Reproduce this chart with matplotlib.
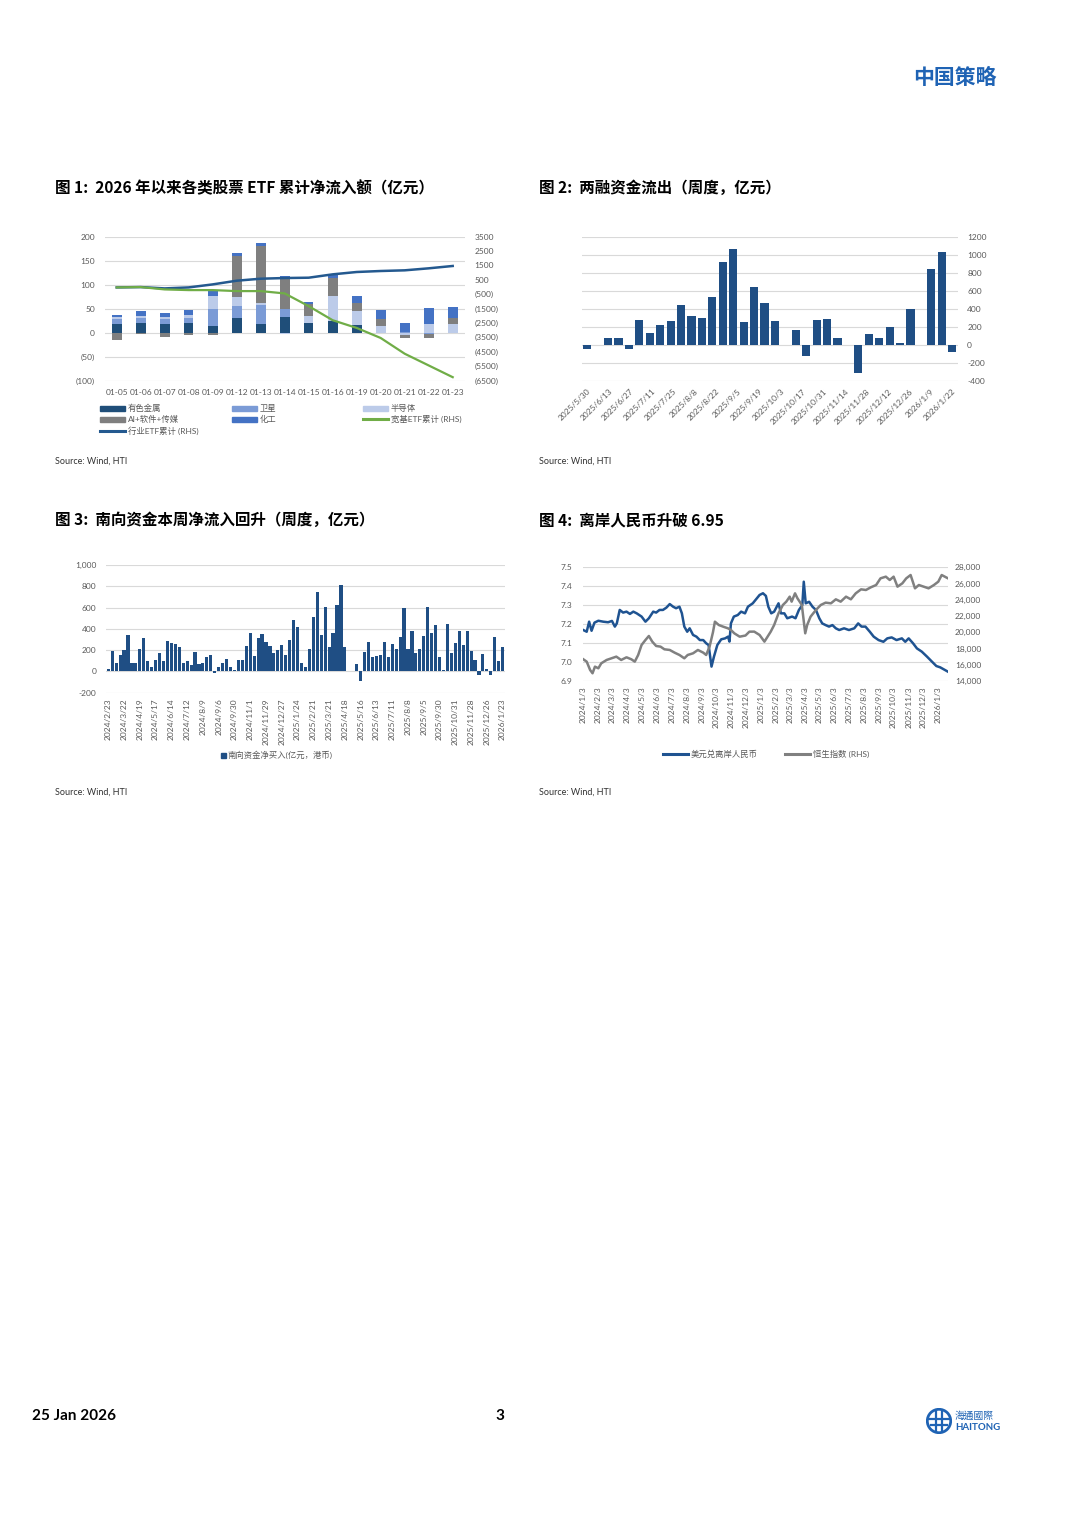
import numpy as np
import pandas as pd
import matplotlib
matplotlib.use("Agg")
import matplotlib.pyplot as plt
from matplotlib.patches import Rectangle, Circle
from matplotlib.lines import Line2D

plt.rcParams['font.family'] = ['Lato', 'Noto Sans CJK SC', 'DejaVu Sans']
plt.rcParams['axes.unicode_minus'] = False

W, H = 1080, 1527
TXT = '#595959'
GRID = '#d9d9d9'
RED = '#e8302f'
NAVY = '#1f4e84'

# ---------------- chart 1: ETF flows by sector (100m CNY) ----------------
etf_days = ['01-05', '01-06', '01-07', '01-08', '01-09', '01-12', '01-13', '01-14',
            '01-15', '01-16', '01-19', '01-20', '01-21', '01-22', '01-23']
etf_metal = [17, 20, 17, 20, 13, 30, 18, 32, 20, 25, 16, 0, 0, 0, 0]
etf_satellite = [12, 10, 11, 10, 37, 25, 40, 16, 0, -2, 0, 0, 2, -4, 0]
etf_semi = [3, 5, 4, 7, 27, 20, 4, -3, 15, 52, 28, 14, -5, 18, 17]
etf_ai = [-15, -4, -10, -6, -5, 85, 118, 67, 25, 36, 18, 14, -7, -7, 14]
etf_chem = [4, 9, 8, 9, 9, 5, 6, 3, 4, 6, 15, 19, 18, 32, 22]
etf_industry_cum = [-36, -12, -105, -36, 174, 430, 569, 616, 639, 872, 1035, 1104, 1151, 1290, 1453]
etf_broad_cum = [-36, -12, -175, -222, -222, -291, -291, -454, -1338, -2315, -2850, -3548, -4641, -5455, -6269]

# ---------------- chart 2: margin financing weekly flow ----------------
margin_labels = ['2025/5/30', '2025/6/13', '2025/6/27', '2025/7/11', '2025/7/25', '2025/8/8',
                 '2025/8/22', '2025/9/5', '2025/9/19', '2025/10/3', '2025/10/17', '2025/10/31',
                 '2025/11/14', '2025/11/28', '2025/12/12', '2025/12/26', '2026/1/9', '2026/1/22']
margin_flow = [-49, np.nan, 71, 78, -41, 272, 131, 224, 261, 448, 325, 298, 534, 925, 1071, 257,
               646, 466, 261, np.nan, 168, -123, 276, 291, 71, -3, -317, 119, 78, 201, 19, 396,
               np.nan, 847, 1041, -75]

# ---------------- chart 3: southbound weekly net buying ----------------
south_labels = ['2024/2/23', '2024/3/22', '2024/4/19', '2024/5/17', '2024/6/14', '2024/7/12',
                '2024/8/9', '2024/9/6', '2024/9/30', '2024/11/1', '2024/11/29', '2024/12/27',
                '2025/1/24', '2025/2/21', '2025/3/21', '2025/4/18', '2025/5/16', '2025/6/13',
                '2025/7/11', '2025/8/8', '2025/9/5', '2025/9/30', '2025/10/31', '2025/11/28',
                '2025/12/26', '2026/1/23']
south_flow = [25, 190, 80, 150, 200, 345, 80, 80, 215, 310,
              95, 45, 105, 175, 95, 290, 265, 260, 232, 80,
              95, 60, 180, 65, 75, 140, 150, -15, 40, 80,
              115, 40, 15, 110, 110, 240, 358, 145, 318, 350,
              275, 238, 170, 200, 248, 150, 293, 480, 420, 80,
              40, 215, 510, 745, 345, 610, 225, 360, 625, 815,
              225, 2, 5, 70, -90, 185, 280, 140, 145, 155,
              280, 135, 260, 210, 320, 595, 215, 380, 175, 215,
              330, 610, 365, 440, 140, 10, 450, 170, 270, 380,
              245, 380, 190, 105, -30, 160, 20, -30, 320, 95, 230]

# ---------------- chart 4: USD/CNH and Hang Seng ----------------
cnh_dates = ['2024-01-03', '2024-01-10', '2024-01-15', '2024-01-20', '2024-01-26', '2024-02-03',
             '2024-02-13', '2024-02-23', '2024-03-02', '2024-03-08', '2024-03-12', '2024-03-18',
             '2024-03-25', '2024-04-01', '2024-04-08', '2024-04-15', '2024-04-22', '2024-05-02',
             '2024-05-10', '2024-05-17', '2024-05-26', '2024-06-01', '2024-06-08', '2024-06-15',
             '2024-06-22', '2024-06-29', '2024-07-06', '2024-07-12', '2024-07-19', '2024-07-24',
             '2024-07-29', '2024-08-04', '2024-08-09', '2024-08-16', '2024-08-23', '2024-08-30',
             '2024-09-06', '2024-09-12', '2024-09-17', '2024-09-23', '2024-09-28', '2024-10-05',
             '2024-10-13', '2024-10-21', '2024-10-27', '2024-10-30', '2024-11-02', '2024-11-08',
             '2024-11-16', '2024-11-23', '2024-12-01', '2024-12-07', '2024-12-17', '2024-12-31',
             '2025-01-07', '2025-01-13', '2025-01-18', '2025-01-24', '2025-01-30', '2025-02-08',
             '2025-02-13', '2025-02-20', '2025-02-26', '2025-03-08', '2025-03-15', '2025-03-22',
             '2025-03-29', '2025-04-01', '2025-04-05', '2025-04-12', '2025-04-19', '2025-04-26',
             '2025-05-03', '2025-05-09', '2025-05-16', '2025-05-23', '2025-05-30', '2025-06-06',
             '2025-06-13', '2025-06-23', '2025-07-03', '2025-07-14', '2025-07-22', '2025-07-29',
             '2025-08-06', '2025-08-15', '2025-08-23', '2025-09-02', '2025-09-12', '2025-09-20',
             '2025-09-29', '2025-10-09', '2025-10-20', '2025-10-27', '2025-11-03', '2025-11-12',
             '2025-11-20', '2025-11-30', '2025-12-11', '2025-12-21', '2025-12-30', '2026-01-07',
             '2026-01-23']
cnh_rate = [7.169, 7.160, 7.213, 7.165, 7.208, 7.218,
            7.213, 7.210, 7.217, 7.187, 7.204, 7.275,
            7.261, 7.266, 7.254, 7.266, 7.257, 7.240,
            7.213, 7.231, 7.266, 7.261, 7.275, 7.275,
            7.287, 7.306, 7.292, 7.284, 7.292, 7.257,
            7.187, 7.160, 7.178, 7.143, 7.134, 7.116,
            7.116, 7.099, 7.090, 6.976, 7.028, 7.090,
            7.120, 7.125, 7.134, 7.108, 7.204, 7.240,
            7.248, 7.266, 7.257, 7.292, 7.310, 7.354,
            7.363, 7.349, 7.292, 7.257, 7.266, 7.310,
            7.257, 7.257, 7.231, 7.240, 7.231, 7.275,
            7.301, 7.424, 7.310, 7.318, 7.292, 7.275,
            7.231, 7.204, 7.195, 7.187, 7.195, 7.178,
            7.169, 7.178, 7.169, 7.178, 7.204, 7.187,
            7.187, 7.160, 7.134, 7.116, 7.107, 7.125,
            7.130, 7.116, 7.125, 7.107, 7.125, 7.099,
            7.072, 7.055, 7.028, 7.002, 6.979, 6.972,
            6.949]
hsi_dates = ['2024-01-03', '2024-01-10', '2024-01-17', '2024-01-22', '2024-01-27', '2024-02-03',
             '2024-02-09', '2024-02-20', '2024-03-01', '2024-03-11', '2024-03-21', '2024-04-01',
             '2024-04-11', '2024-04-18', '2024-04-25', '2024-05-02', '2024-05-10', '2024-05-17',
             '2024-05-24', '2024-06-01', '2024-06-10', '2024-06-18', '2024-06-29', '2024-07-09',
             '2024-07-19', '2024-07-29', '2024-08-05', '2024-08-16', '2024-08-26', '2024-09-06',
             '2024-09-12', '2024-09-19', '2024-09-26', '2024-09-30', '2024-10-08', '2024-10-17',
             '2024-10-27', '2024-11-02', '2024-11-09', '2024-11-20', '2024-12-02', '2024-12-10',
             '2024-12-20', '2024-12-31', '2025-01-10', '2025-01-23', '2025-01-30', '2025-02-08',
             '2025-02-17', '2025-02-24', '2025-03-03', '2025-03-07', '2025-03-14', '2025-03-19',
             '2025-03-28', '2025-04-04', '2025-04-08', '2025-04-15', '2025-04-26', '2025-05-06',
             '2025-05-16', '2025-05-27', '2025-06-06', '2025-06-16', '2025-06-27', '2025-07-07',
             '2025-07-17', '2025-07-28', '2025-08-07', '2025-08-17', '2025-08-28', '2025-09-06',
             '2025-09-17', '2025-09-25', '2025-10-03', '2025-10-11', '2025-10-21', '2025-10-29',
             '2025-11-07', '2025-11-16', '2025-11-24', '2025-12-04', '2025-12-14', '2025-12-25',
             '2026-01-03', '2026-01-10', '2026-01-23']
hsi_index = [16672, 16384, 15360, 14950, 15770, 15565,
             16180, 16590, 16795, 17000, 16590, 16918,
             16672, 16384, 17205, 18436, 19051, 19543,
             18846, 18313, 18231, 17903, 17821, 17492,
             17205, 16795, 17205, 17410, 17821, 17492,
             17205, 18231, 20000, 21305, 20895, 20690,
             20485, 20280, 19870, 19458, 19600, 20074,
             20080, 19667, 18846, 20080, 20895, 22332,
             23360, 23770, 24385, 23770, 24795, 24180,
             23360, 19872, 20895, 21920, 22743, 23360,
             23647, 23565, 24057, 23770, 24385, 24057,
             24795, 25287, 25205, 25533, 25820, 26640,
             26847, 26436, 26847, 25615, 26026, 26640,
             27050, 25410, 25820, 25615, 25410, 25820,
             26230, 27050, 26640]


def fx(x):
    return x / W


def fy(y):
    return 1 - y / H


def axes_px(fig, x0, y0, x1, y1):
    return fig.add_axes([fx(x0), fy(y1), (x1 - x0) / W, (y1 - y0) / H])


def clean(ax):
    for s in ax.spines.values():
        s.set_visible(False)
    ax.tick_params(length=0, labelsize=6, labelcolor=TXT)


def paren(v):
    return f"({abs(v)})" if v < 0 else f"{v}"


def color_negative(labels, ticks):
    for lbl, v in zip(labels, ticks):
        if v < 0:
            lbl.set_color(RED)


def legend_patch(fig, x, y, color, label, w=25, h=5, marker=False):
    if marker:
        fig.add_artist(Rectangle((fx(x), fy(y + 2.5)), 5 / W, 5 / H,
                                 transform=fig.transFigure, color=color))
        fig.text(fx(x + 7), fy(y), label, fontsize=6, color=TXT, va='center')
        return
    fig.add_artist(Rectangle((fx(x), fy(y + h / 2)), w / W, h / H,
                             transform=fig.transFigure, color=color))
    fig.text(fx(x + w + 3), fy(y), label, fontsize=6, color=TXT, va='center')


def legend_line(fig, x, y, color, label, w=25, lw=2.2):
    fig.add_artist(Line2D([fx(x), fx(x + w)], [fy(y), fy(y)], transform=fig.transFigure,
                          color=color, lw=lw))
    fig.text(fx(x + w + 3), fy(y), label, fontsize=6, color=TXT, va='center')


fig = plt.figure(figsize=(W / 100, H / 100), dpi=100)

# header / footer
fig.text(fx(997), fy(78), '中国策略', fontsize=15, fontweight='bold', color='#1f63b4',
         ha='right', va='center', family=['Noto Sans CJK SC'])
fig.text(fx(32), fy(1416), '25 Jan 2026', fontsize=11, fontweight='bold', va='center')
fig.text(fx(500), fy(1416), '3', fontsize=11, fontweight='bold', va='center', ha='center')
logo = axes_px(fig, 926, 1408, 952, 1434)
logo.set_xlim(-1, 1)
logo.set_ylim(-1, 1)
logo.axis('off')
logo.add_patch(Circle((0, 0), 0.9, fill=False, lw=2, color='#1f63b4'))
logo.plot([-0.75, 0.75], [0.15, 0.15], color='#1f63b4', lw=1.6)
logo.plot([-0.6, 0.6], [-0.3, -0.3], color='#1f63b4', lw=1.6)
logo.plot([-0.2, -0.2], [-0.8, 0.8], color='#1f63b4', lw=1.6)
logo.plot([0.25, 0.25], [-0.8, 0.8], color='#1f63b4', lw=1.6)
fig.text(fx(955), fy(1416), '海通國際', fontsize=7, color='#1f63b4', va='center',
         family=['Noto Sans CJK TC'])
fig.text(fx(955), fy(1428), 'HAITONG', fontsize=7, color='#1f63b4', va='center',
         fontweight='bold')

title_font = dict(fontsize=11.2, fontweight='bold', va='center', family=['Noto Sans CJK SC'])
fig.text(fx(55), fy(188), '图 1:  2026 年以来各类股票 ETF 累计净流入额（亿元）', **title_font)
fig.text(fx(539), fy(188), '图 2:  两融资金流出（周度，亿元）', **title_font)
fig.text(fx(55), fy(520), '图 3:  南向资金本周净流入回升（周度，亿元）', **title_font)
fig.text(fx(539), fy(520), '图 4:  离岸人民币升破 6.95', **title_font)
for sx, sy in [(55, 461), (539, 461), (55, 792), (539, 792)]:
    fig.text(fx(sx), fy(sy), 'Source: Wind, HTI', fontsize=6.5, color='#333333', va='center')

# ---------------- chart 1 ----------------
ax1 = axes_px(fig, 104.7, 236.5, 464.7, 380.5)
x1 = np.arange(len(etf_days))
stack = [('有色金属', etf_metal, '#1f4e79'),
         ('卫星', etf_satellite, '#7b9bd6'),
         ('半导体', etf_semi, '#bccbe9'),
         ('AI+软件+传媒', etf_ai, '#7f7f7f'),
         ('化工', etf_chem, '#4472c4')]
pos = np.zeros(len(etf_days))
neg = np.zeros(len(etf_days))
for name, vals, col in stack:
    v = np.array(vals, dtype=float)
    ax1.bar(x1, v, 0.4, bottom=np.where(v >= 0, pos, neg), color=col, zorder=2)
    pos += np.clip(v, 0, None)
    neg += np.clip(v, None, 0)
ax1.set_xlim(-0.5, len(etf_days) - 0.5)
t1 = list(range(-100, 201, 50))
ax1.set_ylim(-100, 200)
ax1.set_yticks(t1, [paren(v) for v in t1])
color_negative(ax1.get_yticklabels(), t1)
ax1.set_xticks(x1, etf_days)
ax1.grid(axis='y', color=GRID, lw=0.8)
ax1.set_axisbelow(True)
clean(ax1)
ax1.tick_params(axis='y', pad=7)
ax1.tick_params(axis='x', pad=6)

ax1r = ax1.twinx()
ax1r.plot(x1, etf_industry_cum, color='#24598f', lw=1.8)
ax1r.plot(x1, etf_broad_cum, color='#70ad47', lw=1.6)
t1r = list(range(-6500, 3501, 1000))
ax1r.set_ylim(-6500, 3500)
ax1r.set_yticks(t1r, [paren(v) for v in t1r])
color_negative(ax1r.get_yticklabels(), t1r)
clean(ax1r)
ax1r.tick_params(axis='y', pad=7)

legend_patch(fig, 100, 408, '#1f4e79', '有色金属')
legend_patch(fig, 232, 408, '#7b9bd6', '卫星')
legend_patch(fig, 363, 408, '#bccbe9', '半导体')
legend_patch(fig, 100, 419, '#7f7f7f', 'AI+软件+传媒')
legend_patch(fig, 232, 419, '#4472c4', '化工')
legend_line(fig, 363, 419, '#70ad47', '宽基ETF累计 (RHS)')
legend_line(fig, 100, 431, '#24598f', '行业ETF累计 (RHS)')

# ---------------- chart 2 ----------------
ax2 = axes_px(fig, 582, 237.3, 957.5, 380.7)
x2 = np.arange(len(margin_flow))
ax2.bar(x2, margin_flow, 0.78, color=NAVY, zorder=2)
ax2.set_xlim(-0.5, len(margin_flow) - 0.5)
ax2.set_ylim(-400, 1200)
ax2.yaxis.tick_right()
ax2.set_yticks(range(-400, 1201, 200))
ax2.set_xticks(np.linspace(0, len(margin_flow) - 1, len(margin_labels)), margin_labels,
               rotation=45, ha='right', rotation_mode='anchor')
ax2.grid(axis='y', color=GRID, lw=0.8)
ax2.set_axisbelow(True)
clean(ax2)
ax2.tick_params(axis='y', pad=7)
ax2.tick_params(axis='x', pad=5)

# ---------------- chart 3 ----------------
ax3 = axes_px(fig, 106.3, 565, 504.6, 692.7)
x3 = np.arange(len(south_flow))
ax3.bar(x3, south_flow, 0.8, color=NAVY, zorder=2)
ax3.set_xlim(-0.5, len(south_flow) - 0.5)
ax3.set_ylim(-200, 1000)
t3 = list(range(-200, 1001, 200))
ax3.set_yticks(t3, [f"{v:,}" for v in t3])
ax3.set_xticks(np.arange(0, len(south_flow), 4), south_labels, rotation=90)
ax3.grid(axis='y', color=GRID, lw=0.8)
ax3.set_axisbelow(True)
clean(ax3)
ax3.tick_params(axis='y', pad=7)
ax3.tick_params(axis='x', pad=4)
legend_patch(fig, 221, 755, NAVY, '南向资金净买入(亿元，港币)', marker=True)

# ---------------- chart 4 ----------------
ax4 = axes_px(fig, 583.3, 567.3, 948, 681)
cnh_x = pd.to_datetime(cnh_dates)
hsi_x = pd.to_datetime(hsi_dates)
ax4.plot(cnh_x, cnh_rate, color='#1f5391', lw=1.8)
ax4.set_ylim(6.9, 7.5)
ax4.set_yticks(np.round(np.arange(6.9, 7.51, 0.1), 1))
ax4.yaxis.set_major_formatter(matplotlib.ticker.FormatStrFormatter('%.1f'))
months = pd.date_range('2024-01-03', '2026-01-03', freq=pd.DateOffset(months=1))
ax4.set_xticks(months, [f"{d.year}/{d.month}/{d.day}" for d in months], rotation=90)
ax4.set_xlim(cnh_x[0], cnh_x[-1])
ax4.grid(axis='y', color=GRID, lw=0.8)
ax4.set_axisbelow(True)
clean(ax4)
ax4.tick_params(axis='y', pad=8)
ax4.tick_params(axis='x', pad=4)
ax4r = ax4.twinx()
ax4r.plot(hsi_x, hsi_index, color='#808080', lw=1.8)
ax4r.set_ylim(14000, 28000)
t4 = list(range(14000, 28001, 2000))
ax4r.set_yticks(t4, [f"{v:,}" for v in t4])
clean(ax4r)
ax4r.tick_params(axis='y', pad=5)
legend_line(fig, 663, 754, '#1f5391', '美元兑离岸人民币')
legend_line(fig, 785, 754, '#808080', '恒生指数 (RHS)')

fig.savefig('out.png', dpi=100)
